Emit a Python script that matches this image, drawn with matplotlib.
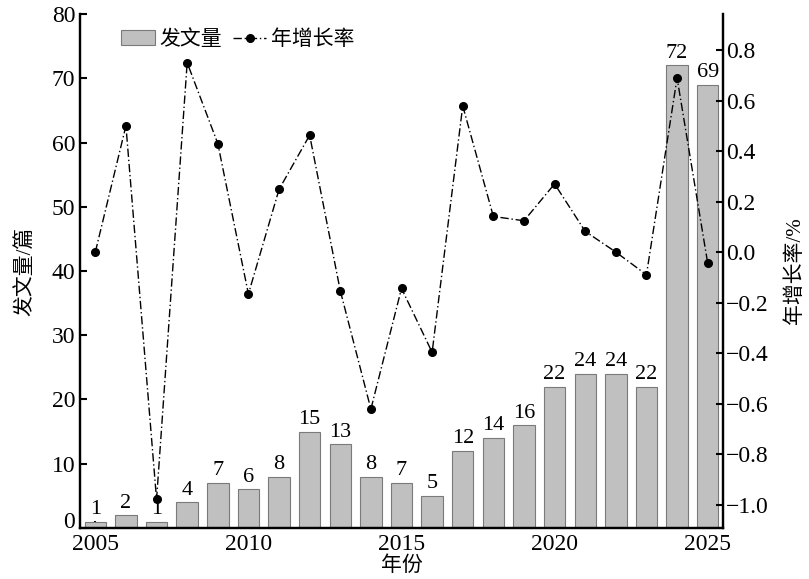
import matplotlib
matplotlib.use('Agg')
import matplotlib.pyplot as plt
import matplotlib.transforms as mtransforms

plt.rcParams['font.family'] = ['Liberation Serif', 'Noto Sans CJK SC']
plt.rcParams['axes.unicode_minus'] = False

years = list(range(2005, 2026))
papers = [1, 2, 1, 4, 7, 6, 8, 15, 13, 8, 7, 5, 12, 14, 16, 22, 24, 24, 22, 72, 69]
growth = [0.0, 0.50, -0.98, 0.75, 0.43, -0.166, 0.248, 0.463, -0.153, -0.622,
          -0.144, -0.397, 0.579, 0.141, 0.124, 0.27, 0.082, 0.0, -0.09, 0.69, -0.044]
xticks = [2005, 2010, 2015, 2020, 2025]

fig = plt.figure(figsize=(8.09, 5.79), dpi=100)
ax = fig.add_axes([0.0989, 0.0881, 0.7948, 0.8877])
ax2 = ax.twinx()

bars = ax.bar(years, papers, width=0.7, color='#c0c0c0', edgecolor='#7a7a7a',
              linewidth=0.8, label='发文量', zorder=2)
for x, v in zip(years, papers):
    ax.text(x, v + 0.4, str(v), ha='center', va='bottom', fontsize=16, zorder=3)

line, = ax2.plot(years, growth, color='black', linestyle=(0, (6, 2, 1, 2)),
                 linewidth=1.0, marker='o', markersize=5.5, label='年增长率')

ax.set_xlim(2004.5, 2025.5)
ax.set_ylim(0, 80)
ax2.set_ylim(-1.093, 0.943)
ax.set_xticks(xticks)
ax.set_yticks(range(0, 90, 10))
ax2.set_yticks([-1.0, -0.8, -0.6, -0.4, -0.2, 0.0, 0.2, 0.4, 0.6, 0.8])
ax2.set_yticklabels(['−1.0', '−0.8', '−0.6', '−0.4', '−0.2', '0.0', '0.2', '0.4', '0.6', '0.8'])

for a in (ax, ax2):
    a.spines['top'].set_visible(False)
    for s in ('left', 'right', 'bottom'):
        a.spines[s].set_linewidth(1.6)
ax.tick_params(axis='both', direction='in', length=5, width=1.5, labelsize=17)
ax.tick_params(axis='x', pad=4)
ax2.tick_params(axis='y', direction='in', length=5, width=1.5, labelsize=17, pad=2)

# lift the "0" label a little so it clears "2005"
fig.canvas.draw()
zero_lbl = ax.get_yticklabels()[0]
zero_lbl.set_transform(zero_lbl.get_transform() +
                       mtransforms.ScaledTranslation(0, 6 / 72, fig.dpi_scale_trans))

ax.set_xlabel('年份', fontsize=15, labelpad=1)
ax.set_ylabel('发文量/篇', fontsize=15, labelpad=12)
ax2.set_ylabel('年增长率/%', fontsize=15, labelpad=12)

ax.legend([bars, line], ['发文量', '年增长率'], loc='upper left',
          bbox_to_anchor=(0.035, 1.005), ncol=2, frameon=False, fontsize=15,
          handlelength=1.6, handletextpad=0.25, columnspacing=0.5)

fig.savefig('out.png', dpi=100)
